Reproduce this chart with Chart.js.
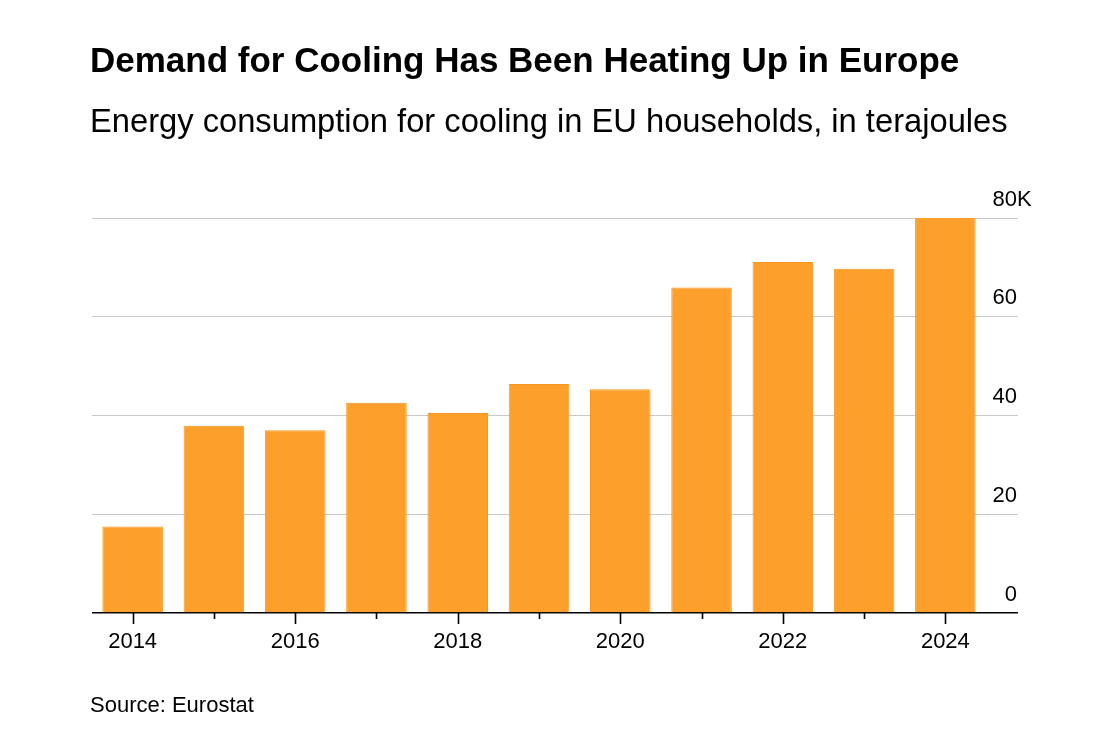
<!DOCTYPE html>
<html>
<head>
<meta charset="utf-8">
<script src="https://cdn.jsdelivr.net/npm/chart.js@4"></script>
<style>
  html, body { margin: 0; padding: 0; background: #fff; }
  body { width: 1100px; height: 748px; position: relative; overflow: hidden; font-family: "Liberation Sans", Arial, sans-serif; color: #000; }
  .txt { position: absolute; left: 90px; line-height: 1; white-space: nowrap; }
  #title { top: 42px; font-size: 35px; font-weight: bold; }
  #subtitle { top: 105.3px; font-size: 32.7px; }
  #source { top: 693.5px; font-size: 22px; }
  #wrap { position: absolute; left: 0; top: 0; width: 1100px; height: 748px; }
</style>
</head>
<body>
<div id="wrap"><canvas id="coolingChart"></canvas></div>
<div class="txt" id="title">Demand for Cooling Has Been Heating Up in Europe</div>
<div class="txt" id="subtitle">Energy consumption for cooling in EU households, in terajoules</div>
<div class="txt" id="source">Source: Eurostat</div>

<script>
// Data (terajoules)
const years = ['2014', '2015', '2016', '2017', '2018', '2019', '2020', '2021', '2022', '2023', '2024'];
const coolingTJ = [17500, 37900, 37000, 42600, 40500, 46400, 45300, 65900, 71100, 69700, 80400];
const yTicks = [0, 20000, 40000, 60000, 80000];

const FONT = '"Liberation Sans", Arial, sans-serif';

// short/long tick marks under the baseline
const xTickMarks = {
    id: 'xTickMarks',
    afterDraw(chart) {
        const x = chart.scales.x;
        const ctx = chart.ctx;
        const base = chart.chartArea.bottom;
        ctx.save();
        ctx.strokeStyle = '#000';
        ctx.lineWidth = 1.6;
        years.forEach((y, i) => {
            const px = Math.round(x.getPixelForTick(i)) + 0.5;
            ctx.beginPath();
            ctx.moveTo(px, base);
            ctx.lineTo(px, base + (i % 2 === 0 ? 11 : 6));
            ctx.stroke();
        });
        ctx.restore();
    }
};

// y labels sitting above the grid lines, "K" hanging past the numbers
const yLabels = {
    id: 'yLabels',
    afterDraw(chart) {
        const y = chart.scales.y;
        const ctx = chart.ctx;
        const right = 1017;
        ctx.save();
        ctx.fillStyle = '#000';
        ctx.font = '22px ' + FONT;
        ctx.textBaseline = 'alphabetic';
        yTicks.forEach(v => {
            const py = y.getPixelForValue(v) - 12.5;
            ctx.textAlign = 'right';
            ctx.fillText(String(v / 1000), right, py);
            if (v === yTicks[yTicks.length - 1]) {
                ctx.textAlign = 'left';
                ctx.fillText('K', right, py);
            }
        });
        ctx.restore();
    }
};

new Chart(document.getElementById('coolingChart'), {
    type: 'bar',
    data: {
        labels: years,
        datasets: [{
            data: coolingTJ,
            backgroundColor: '#FCA02B',
            borderColor: '#F8961F',
            borderWidth: 1,
            categoryPercentage: 1,
            barPercentage: 0.745
        }]
    },
    options: {
        responsive: true,
        maintainAspectRatio: false,
        animation: false,
        layout: { padding: { left: 92, right: 82, top: 218, bottom: 75 } },
        plugins: {
            legend: { display: false },
            tooltip: { enabled: false }
        },
        scales: {
            x: {
                grid: { display: false },
                border: { display: false },
                ticks: {
                    autoSkip: false,
                    maxRotation: 0,
                    padding: 8,
                    color: '#000',
                    font: { family: FONT, size: 22 },
                    callback: (val, i) => (i % 2 === 0 ? years[i] : '')
                },
                afterFit(scale) { scale.height = 60; }
            },
            y: {
                position: 'right',
                min: 0,
                max: 80000,
                afterBuildTicks(scale) { scale.ticks = yTicks.map(v => ({ value: v })); },
                border: { display: false },
                grid: {
                    color: c => (c.tick && c.tick.value === 0 ? '#000' : '#C9C9C9'),
                    lineWidth: c => (c.tick && c.tick.value === 0 ? 1.5 : 1),
                    drawTicks: true,
                    tickLength: 32
                },
                ticks: { display: false }
            }
        }
    },
    plugins: [xTickMarks, yLabels]
});
</script>
</body>
</html>
